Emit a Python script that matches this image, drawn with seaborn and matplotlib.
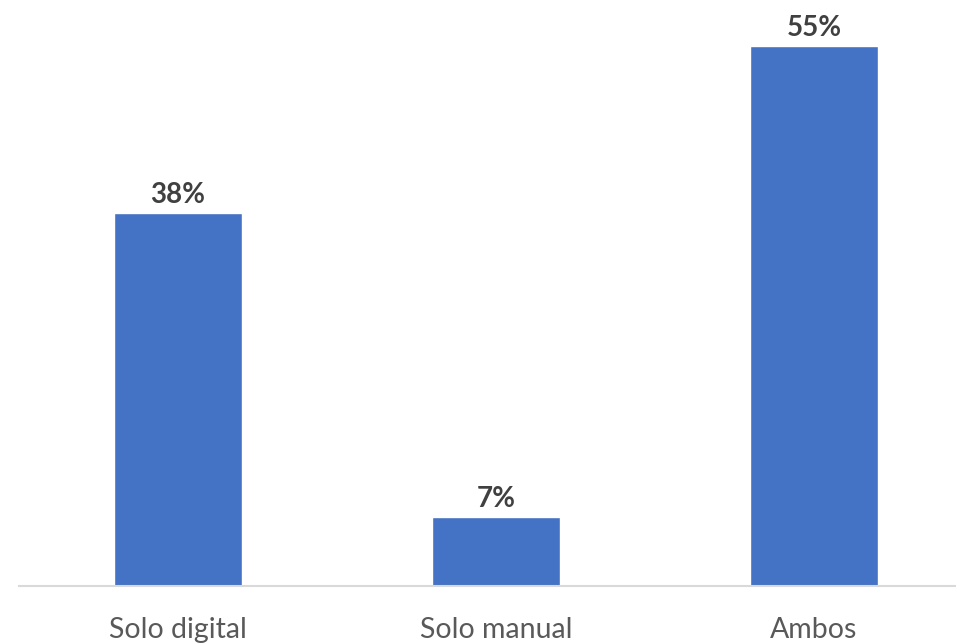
import matplotlib
matplotlib.use("Agg")
import matplotlib.pyplot as plt
import seaborn as sns
import pandas as pd

categories = ["Solo digital", "Solo manual", "Ambos"]
values = [38, 7, 55]
labels = ["38%", "7%", "55%"]

sns.set_theme(style="white")
plt.rcParams['font.family'] = ['Lato', 'DejaVu Sans']

df = pd.DataFrame({"cat": categories, "val": values})

fig = plt.figure(figsize=(9.56, 6.43), dpi=100)
ax = fig.add_axes([19/956, 57/643, 954/956, 589/643])
sns.barplot(data=df, x="cat", y="val", color="#4472C4", saturation=1, width=0.4, ax=ax)
ax.set_xlim(-0.5, 2.5)
ax.set_ylim(0, 60)
for i, (v, l) in enumerate(zip(values, labels)):
    ax.text(i, v + 0.5, l, ha="center", va="bottom", fontsize=20, fontweight="bold", color="#404040")
ax.set_xlabel("")
ax.set_ylabel("")
ax.set_yticks([])
ax.tick_params(axis="x", length=0, pad=22, labelsize=20.5, labelcolor="#595959")
for s in ["top", "right", "left"]:
    ax.spines[s].set_visible(False)
ax.spines["bottom"].set_color("#D9D9D9")
ax.spines["bottom"].set_linewidth(1.5)
fig.savefig("out.png", dpi=100)
